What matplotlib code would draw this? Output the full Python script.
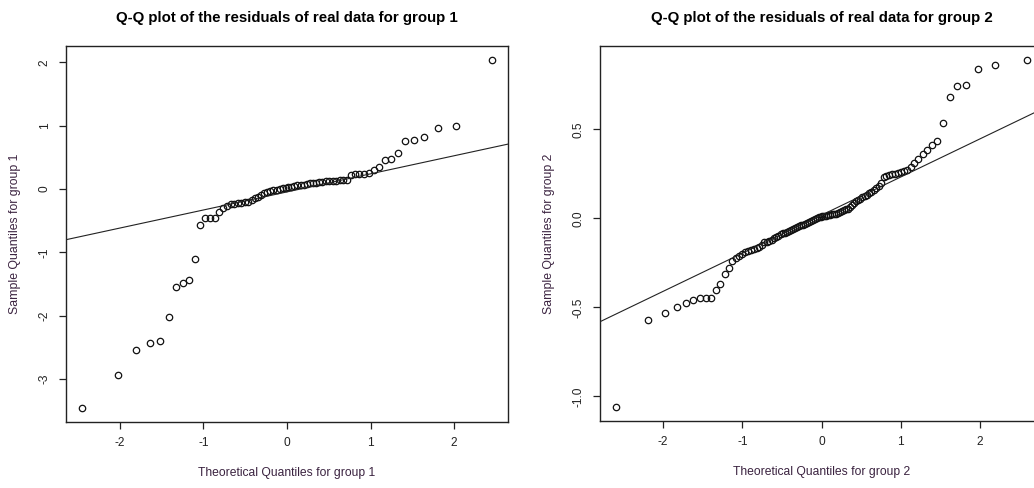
#!/usr/bin/env python3
"""Normal Q-Q plots of the residuals for the two groups (R qqnorm / qqline style)."""

from statistics import NormalDist

import matplotlib
matplotlib.use("Agg")
import matplotlib.pyplot as plt
import numpy as np

# sorted residuals
resid_g1 = [
    -3.46, -2.94, -2.55, -2.43, -2.40, -2.02, -1.545, -1.49, -1.44, -1.11,
    -0.57, -0.465, -0.455, -0.455, -0.36, -0.30, -0.26, -0.24, -0.23, -0.22,
    -0.22, -0.21, -0.20, -0.18, -0.14, -0.12, -0.09, -0.06, -0.04, -0.03,
    -0.02, -0.01, 0.00, 0.01, 0.02, 0.03, 0.04, 0.05, 0.06, 0.07,
    0.07, 0.08, 0.09, 0.10, 0.10, 0.11, 0.11, 0.12, 0.12, 0.13,
    0.13, 0.14, 0.15, 0.15, 0.22, 0.23, 0.23, 0.24, 0.26, 0.30,
    0.35, 0.475, 0.46, 0.575, 0.76, 0.775, 0.83, 0.97, 1.00, 2.04,
]
resid_g2 = [
    -1.06, -0.568, -0.529, -0.497, -0.478, -0.456, -0.447, -0.445, -0.445, -0.40,
    -0.37, -0.31, -0.28, -0.24, -0.22, -0.21, -0.20, -0.19, -0.185, -0.18,
    -0.17, -0.165, -0.16, -0.15, -0.135, -0.13, -0.125, -0.12, -0.11, -0.105,
    -0.10, -0.09, -0.085, -0.08, -0.075, -0.07, -0.065, -0.06, -0.055, -0.05,
    -0.045, -0.04, -0.035, -0.03, -0.025, -0.02, -0.015, -0.01, -0.005, 0.00,
    0.005, 0.01, 0.012, 0.014, 0.016, 0.018, 0.02, 0.022, 0.024, 0.027,
    0.03, 0.035, 0.04, 0.045, 0.05, 0.055, 0.065, 0.075, 0.085, 0.095,
    0.105, 0.11, 0.12, 0.125, 0.13, 0.14, 0.15, 0.16, 0.17, 0.18,
    0.20, 0.23, 0.24, 0.245, 0.25, 0.25, 0.255, 0.26, 0.265, 0.27,
    0.29, 0.31, 0.336, 0.362, 0.386, 0.41, 0.433, 0.535, 0.68, 0.745,
    0.75, 0.84, 0.86, 0.89,
]

groups = ["1", "2"]
residuals = [resid_g1, resid_g2]
y_ticks = [[-3, -2, -1, 0, 1, 2], [-1.0, -0.5, 0.0, 0.5]]
y_ticklabels = [["-3", "-2", "-1", "0", "1", "2"], ["-1.0", "-0.5", "0.0", "0.5"]]
x_ticks = [-2, -1, 0, 1, 2]


def theoretical_quantiles(n):
    # same as R's qnorm(ppoints(n))
    a = 3 / 8 if n <= 10 else 0.5
    nd = NormalDist()
    return np.array([nd.inv_cdf((i - a) / (n + 1 - 2 * a)) for i in range(1, n + 1)])


def r_lims(v):
    lo, hi = min(v), max(v)
    pad = 0.04 * (hi - lo)
    return lo - pad, hi + pad


plt.rcParams.update({
    "font.family": ["Liberation Sans", "DejaVu Sans"],
    "axes.linewidth": 1.0,
})
label_col = "#3b2340"

fig = plt.figure(figsize=(10.34, 4.88), dpi=100)
positions = [
    [66 / 1034, 1 - 422 / 488, (508 - 66) / 1034, (422 - 46) / 488],
    [600 / 1034, 1 - 421 / 488, (1043 - 600) / 1034, (421 - 46) / 488],
]

for k, (grp, res) in enumerate(zip(groups, residuals)):
    ax = fig.add_axes(positions[k])
    y = np.sort(np.array(res))
    x = theoretical_quantiles(len(y))
    ax.plot(x, y, "o", ms=4.6, mfc="none", mec="#111111", mew=0.9)

    # qqline through the first and third quartiles
    yq = np.quantile(y, [0.25, 0.75])
    xq = np.array([NormalDist().inv_cdf(0.25), NormalDist().inv_cdf(0.75)])
    slope = (yq[1] - yq[0]) / (xq[1] - xq[0])
    icpt = yq[0] - slope * xq[0]
    ax.set_xlim(r_lims(x))
    ax.set_ylim(r_lims(y))
    xl = np.array(ax.get_xlim())
    ax.plot(xl, icpt + slope * xl, color="#222222", lw=0.8)
    ax.set_xlim(r_lims(x))

    ax.set_xticks(x_ticks)
    ax.set_xticklabels([str(t) for t in x_ticks])
    ax.set_yticks(y_ticks[k])
    ax.set_yticklabels(y_ticklabels[k], rotation=90, va="center")
    ax.tick_params(direction="out", length=5, width=0.9, labelsize=8.6,
                   colors="#222222", pad=6)
    for s in ax.spines.values():
        s.set_color("#222222")

    ax.set_title(f"Q-Q plot of the residuals of real data for group {grp}",
                 fontsize=10.8, fontweight="bold", pad=17)
    ax.set_xlabel(f"Theoretical Quantiles for group {grp}", fontsize=8.7,
                  color=label_col, labelpad=13)
    ax.set_ylabel(f"Sample Quantiles for group {grp}", fontsize=8.8,
                  color=label_col, labelpad=13)

plt.savefig("out.png", dpi=100)
